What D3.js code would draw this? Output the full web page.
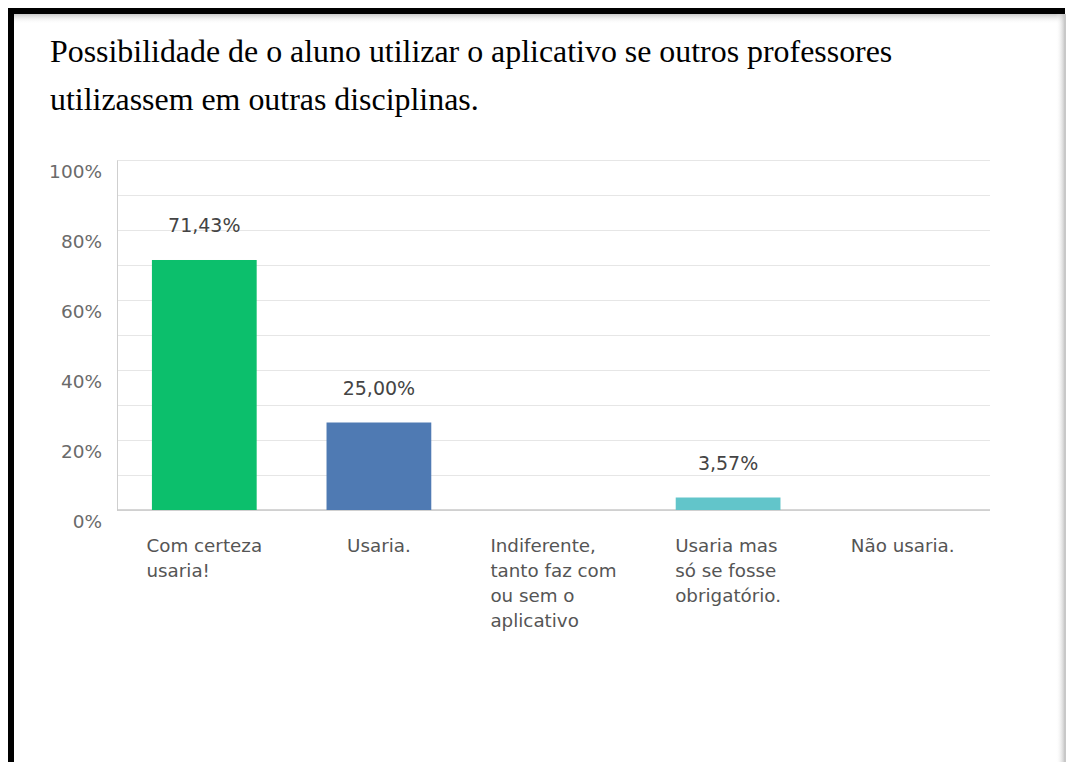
<!DOCTYPE html>
<html>
<head>
<meta charset="utf-8">
<script src="https://cdn.jsdelivr.net/npm/d3@7"></script>
<style>
  html, body { margin: 0; padding: 0; background: #fff; }
  svg { display: block; }
</style>
</head>
<body>
<svg id="chart" width="1067" height="762"></svg>
<script>
// Survey answers and their shares (%)
const categories = [
  "Com certeza usaria!",
  "Usaria.",
  "Indiferente, tanto faz com ou sem o aplicativo",
  "Usaria mas só se fosse obrigatório.",
  "Não usaria."
];
const categoryLines = [
  ["Com certeza", "usaria!"],
  ["Usaria."],
  ["Indiferente,", "tanto faz com", "ou sem o", "aplicativo"],
  ["Usaria mas", "só se fosse", "obrigatório."],
  ["Não usaria."]
];
const values = [71.43, 25.00, 0, 3.57, 0];
const valueLabels = ["71,43%", "25,00%", "", "3,57%", ""];
const barColors = ["#0cbf6c", "#4f7ab3", "#000", "#62c5ca", "#000"];
const yTicks = [0, 20, 40, 60, 80, 100];
const gridTicks = [0, 10, 20, 30, 40, 50, 60, 70, 80, 90, 100];
const titleLines = [
  "Possibilidade de o aluno utilizar o aplicativo se outros professores",
  "utilizassem em outras disciplinas."
];

const svg = d3.select("#chart");
const W = 1067, H = 762;

// Frame: heavy black top/left edges with a soft shade, thin grey right edge
const defs = svg.append("defs");
const gTop = defs.append("linearGradient").attr("id", "shadeTop").attr("x1", 0).attr("y1", 0).attr("x2", 0).attr("y2", 1);
gTop.append("stop").attr("offset", 0).attr("stop-color", "#bbb").attr("stop-opacity", 0.8);
gTop.append("stop").attr("offset", 1).attr("stop-color", "#fff").attr("stop-opacity", 0);
const gRight = defs.append("linearGradient").attr("id", "shadeRight").attr("x1", 1).attr("y1", 0).attr("x2", 0).attr("y2", 0);
gRight.append("stop").attr("offset", 0).attr("stop-color", "#bbb").attr("stop-opacity", 0.7);
gRight.append("stop").attr("offset", 1).attr("stop-color", "#fff").attr("stop-opacity", 0);

svg.append("rect").attr("x", 14).attr("y", 14).attr("width", 1050).attr("height", 10).attr("fill", "url(#shadeTop)");
svg.append("rect").attr("x", 1056).attr("y", 14).attr("width", 8).attr("height", H - 14).attr("fill", "url(#shadeRight)");
svg.append("rect").attr("x", 8).attr("y", 8).attr("width", 1057).attr("height", 6).attr("fill", "#000");
svg.append("rect").attr("x", 8).attr("y", 8).attr("width", 6).attr("height", H - 8).attr("fill", "#000");
svg.append("rect").attr("x", 1064).attr("y", 14).attr("width", 2).attr("height", H - 14).attr("fill", "#c8c8c8");

// Title
svg.append("g").selectAll("text").data(titleLines).join("text")
  .attr("x", 50)
  .attr("y", (d, i) => 62 + i * 48)
  .attr("font-family", "'Liberation Serif', 'Times New Roman', serif")
  .attr("font-size", 31.9)
  .attr("fill", "#000")
  .text(d => d);

// Plot area
const margin = { left: 117, right: 990, top: 160, bottom: 510 };
const x = d3.scaleBand().domain(categories).range([margin.left, margin.right]).paddingInner(0.4).paddingOuter(0.2);
const y = d3.scaleLinear().domain([0, 100]).range([margin.bottom, margin.top]);

const font = "'DejaVu Sans', sans-serif";

// Horizontal gridlines every 10%
const grid = svg.append("g")
  .attr("transform", `translate(${margin.left},0)`)
  .call(d3.axisLeft(y).tickValues(gridTicks).tickSize(-(margin.right - margin.left)).tickFormat(""));
grid.select(".domain").remove();
grid.selectAll(".tick line").attr("stroke", "#e6e6e6").attr("stroke-width", 1);

// Y axis with percentage labels
const yAxis = svg.append("g")
  .attr("transform", `translate(${margin.left},0)`)
  .call(d3.axisLeft(y).tickValues(yTicks).tickSize(0).tickPadding(15).tickFormat(d => d + "%"));
yAxis.select(".domain").attr("stroke", "#cfcfcf");
yAxis.selectAll(".tick text")
  .attr("font-family", font).attr("font-size", 18.5).attr("fill", "#6a6a6a")
  .attr("dy", "0.95em");

// Baseline
svg.append("line")
  .attr("x1", margin.left).attr("x2", margin.right)
  .attr("y1", y(0)).attr("y2", y(0))
  .attr("stroke", "#c8c8c8").attr("stroke-width", 1.5);

// Bars
const data = categories.map((c, i) => ({ c, v: values[i], label: valueLabels[i], color: barColors[i], lines: categoryLines[i] }));
svg.append("g").selectAll("rect").data(data.filter(d => d.v > 0)).join("rect")
  .attr("x", d => x(d.c))
  .attr("width", x.bandwidth())
  .attr("y", d => y(d.v))
  .attr("height", d => y(0) - y(d.v))
  .attr("fill", d => d.color);

// Value labels above bars
svg.append("g").selectAll("text").data(data.filter(d => d.label)).join("text")
  .attr("x", d => x(d.c) + x.bandwidth() / 2)
  .attr("y", d => y(d.v) - 28)
  .attr("text-anchor", "middle")
  .attr("font-family", font).attr("font-size", 19)
  .attr("fill", "#444")
  .text(d => d.label);

// Category labels: left-aligned lines, block centred under each band
const catG = svg.append("g");
data.forEach(d => {
  const t = catG.append("text")
    .attr("font-family", font).attr("font-size", 18.3)
    .attr("fill", "#555");
  d.lines.forEach((ln, i) => {
    t.append("tspan").attr("x", 0).attr("y", 552 + i * 25).text(ln);
  });
  const w = t.node().getBBox().width;
  const cx = x(d.c) + x.bandwidth() / 2;
  t.attr("transform", `translate(${cx - w / 2},0)`);
});
</script>
</body>
</html>
